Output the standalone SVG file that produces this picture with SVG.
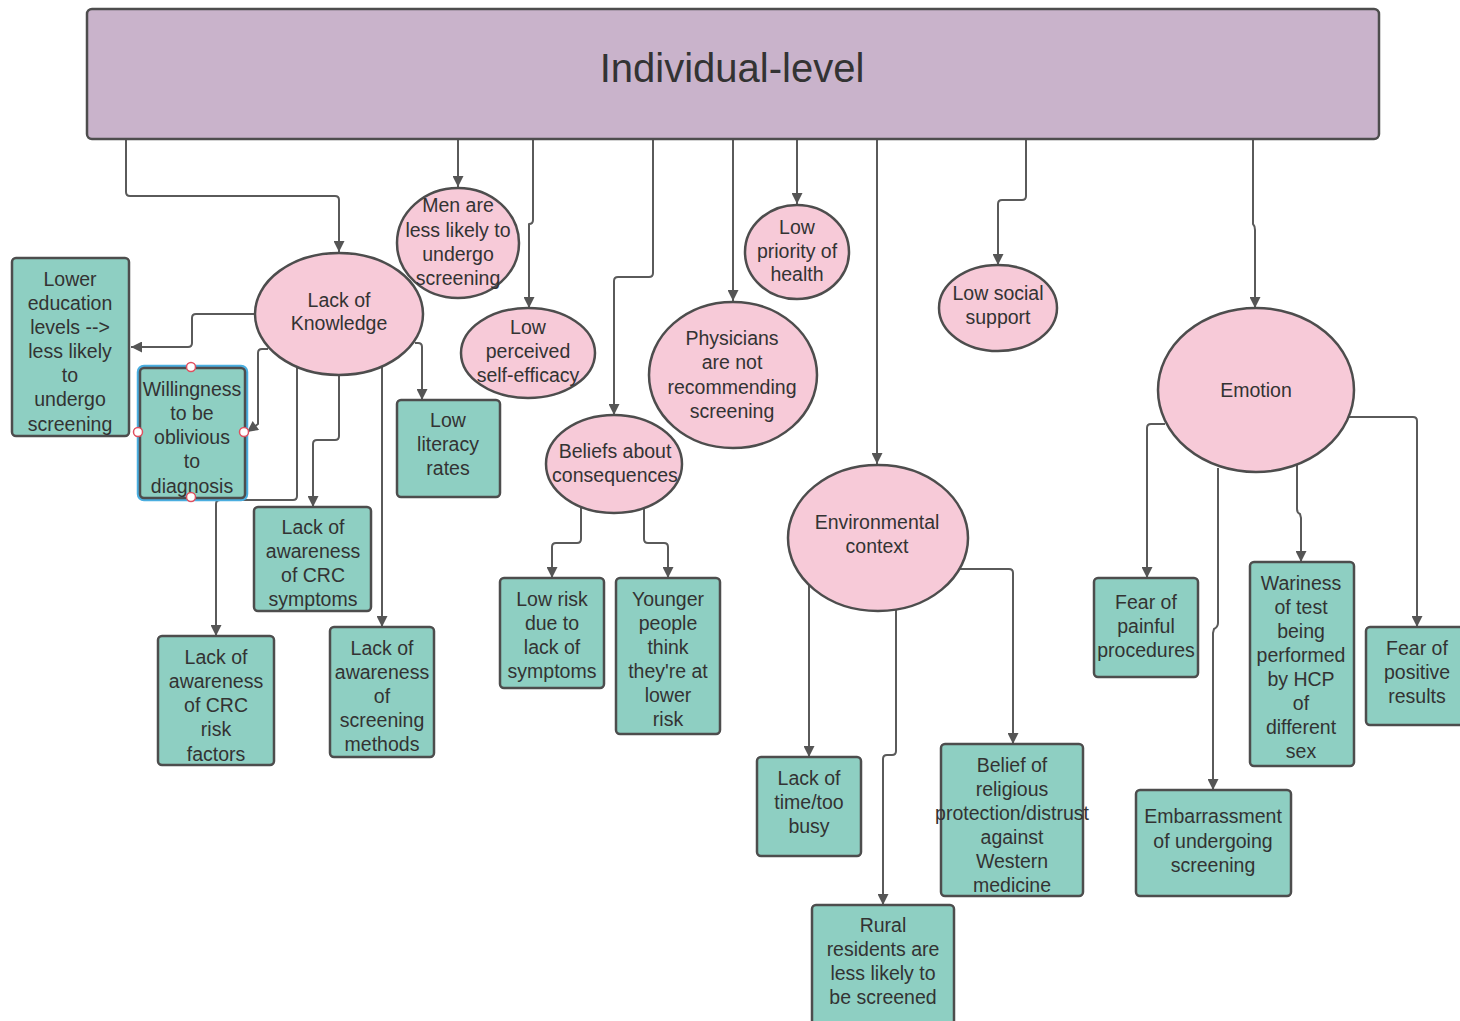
<svg xmlns="http://www.w3.org/2000/svg" width="1460" height="1021" viewBox="0 0 1460 1021">
<style>
.box{fill:#8ecfc2;stroke:#4d4d4d;stroke-width:2.5}
.ell{fill:#f7cad8;stroke:#4d4d4d;stroke-width:2.5}
.t{font-family:"Liberation Sans",Arial,sans-serif;font-size:19.5px;fill:#333;text-anchor:middle}
.c{fill:none;stroke:#5a5a5a;stroke-width:2;stroke-linejoin:round}
</style>
<defs>
<marker id="ah" viewBox="0 0 10 10" refX="10" refY="5" markerUnits="userSpaceOnUse" markerWidth="13" markerHeight="11" orient="auto">
<path d="M0,0 L10,5 L0,10 z" fill="#555"/>
</marker>
</defs>
<rect width="1460" height="1021" fill="#fff"/>

<g id="connectors">
<path class="c" marker-end="url(#ah)" d="M126 139 V192 Q126 196 130 196 H335 Q339 196 339 200 V252"/>
<path class="c" marker-end="url(#ah)" d="M458 139 V187"/>
<path class="c" marker-end="url(#ah)" d="M533 139 V220 Q533 224 529 224 V308"/>
<path class="c" marker-end="url(#ah)" d="M653 139 V273 Q653 277 649 277 H618 Q614 277 614 281 V415"/>
<path class="c" marker-end="url(#ah)" d="M733 139 V301"/>
<path class="c" marker-end="url(#ah)" d="M797 139 V204"/>
<path class="c" marker-end="url(#ah)" d="M877 139 V464"/>
<path class="c" marker-end="url(#ah)" d="M1026 139 V196 Q1026 200 1022 200 H1002 Q998 200 998 204 V265"/>
<path class="c" marker-end="url(#ah)" d="M1253 139 V224 Q1255 226 1255 230 V308"/>

<path class="c" marker-end="url(#ah)" d="M255 314 H196 Q192 314 192 318 V343 Q192 347 188 347 H131"/>
<path class="c" marker-end="url(#ah)" d="M268 349 H262 Q258 349 258 353 V424 L247 432"/>
<path class="c" marker-end="url(#ah)" d="M339 375 V436 Q339 440 335 440 H317 Q313 440 313 444 V507"/>
<path class="c" marker-end="url(#ah)" d="M297 368 V496 Q297 500 293 500 H220 Q216 500 216 504 V636"/>
<path class="c" marker-end="url(#ah)" d="M382 366 V627"/>
<path class="c" marker-end="url(#ah)" d="M415 343 H418 Q422 343 422 347 V400"/>

<path class="c" marker-end="url(#ah)" d="M581 508 V539 Q581 543 577 543 H556 Q552 543 552 547 V578"/>
<path class="c" marker-end="url(#ah)" d="M644 508 V539 Q644 543 648 543 H664 Q668 543 668 547 V578"/>

<path class="c" marker-end="url(#ah)" d="M809 585 V757"/>
<path class="c" marker-end="url(#ah)" d="M896 610 V751 Q896 755 892 755 H887 Q883 755 883 759 V905"/>
<path class="c" marker-end="url(#ah)" d="M960 569 H1009 Q1013 569 1013 573 V744"/>

<path class="c" marker-end="url(#ah)" d="M1165 424 H1151 Q1147 424 1147 428 V578"/>
<path class="c" marker-end="url(#ah)" d="M1218 468 V623 Q1218 627 1214 629 L1213 633 V790"/>
<path class="c" marker-end="url(#ah)" d="M1297 465 V509 Q1297 513 1300 514 L1301 518 V562"/>
<path class="c" marker-end="url(#ah)" d="M1348 417 H1413 Q1417 417 1417 421 V627"/>
</g>

<g id="header">
<rect x="87" y="9" width="1292" height="130" rx="5" fill="#c9b3cb" stroke="#4d4d4d" stroke-width="2.5"/>
<text class="t" x="732" y="82" style="font-size:40px">Individual-level</text>
</g>

<g id="lack-of-knowledge">
<ellipse class="ell" cx="339" cy="314" rx="84" ry="61"/>
<text class="t" x="339" y="307">Lack of</text>
<text class="t" x="339" y="330">Knowledge</text>
</g>

<g id="men-less-likely">
<ellipse class="ell" cx="458" cy="243" rx="61" ry="55"/>
<text class="t" x="458" y="212">Men are</text>
<text class="t" x="458" y="237">less likely to</text>
<text class="t" x="458" y="261">undergo</text>
<text class="t" x="458" y="285">screening</text>
</g>

<g id="low-self-efficacy">
<ellipse class="ell" cx="528" cy="353" rx="67" ry="45"/>
<text class="t" x="528" y="334">Low</text>
<text class="t" x="528" y="358">perceived</text>
<text class="t" x="528" y="382">self-efficacy</text>
</g>

<g id="low-priority-health">
<ellipse class="ell" cx="797" cy="252" rx="52" ry="47"/>
<text class="t" x="797" y="234">Low</text>
<text class="t" x="797" y="258">priority of</text>
<text class="t" x="797" y="281">health</text>
</g>

<g id="physicians">
<ellipse class="ell" cx="733" cy="375" rx="84" ry="73"/>
<text class="t" x="732" y="345">Physicians</text>
<text class="t" x="732" y="369">are not</text>
<text class="t" x="732" y="394">recommending</text>
<text class="t" x="732" y="418">screening</text>
</g>

<g id="beliefs-consequences">
<ellipse class="ell" cx="614" cy="464" rx="68" ry="49"/>
<text class="t" x="615" y="458">Beliefs about</text>
<text class="t" x="615" y="482">consequences</text>
</g>

<g id="low-social-support">
<ellipse class="ell" cx="998" cy="308" rx="59" ry="43"/>
<text class="t" x="998" y="300">Low social</text>
<text class="t" x="998" y="324">support</text>
</g>

<g id="environmental-context">
<ellipse class="ell" cx="878" cy="538" rx="90" ry="73"/>
<text class="t" x="877" y="529">Environmental</text>
<text class="t" x="877" y="553">context</text>
</g>

<g id="emotion">
<ellipse class="ell" cx="1256" cy="390" rx="98" ry="82"/>
<text class="t" x="1256" y="397">Emotion</text>
</g>

<g id="lower-education">
<rect class="box" x="12" y="258" width="117" height="178" rx="4"/>
<text class="t" x="70" y="286">Lower</text>
<text class="t" x="70" y="310">education</text>
<text class="t" x="70" y="334">levels --&gt;</text>
<text class="t" x="70" y="358">less likely</text>
<text class="t" x="70" y="382">to</text>
<text class="t" x="70" y="406">undergo</text>
<text class="t" x="70" y="431">screening</text>
</g>

<g id="willingness">
<rect x="138" y="366" width="109" height="134" rx="6" fill="none" stroke="#4aaee0" stroke-width="2.5"/>
<rect class="box" x="140" y="368" width="105" height="130" rx="4"/>
<text class="t" x="192" y="396">Willingness</text>
<text class="t" x="192" y="420">to be</text>
<text class="t" x="192" y="444">oblivious</text>
<text class="t" x="192" y="468">to</text>
<text class="t" x="192" y="493">diagnosis</text>
<g fill="#fff" stroke="#e05060" stroke-width="1.5">
<circle cx="191" cy="367" r="4.5"/>
<circle cx="138" cy="432" r="4.5"/>
<circle cx="244" cy="432" r="4.5"/>
<circle cx="191" cy="497" r="4.5"/>
</g>
</g>

<g id="low-literacy">
<rect class="box" x="397" y="400" width="103" height="97" rx="4"/>
<text class="t" x="448" y="427">Low</text>
<text class="t" x="448" y="451">literacy</text>
<text class="t" x="448" y="475">rates</text>
</g>

<g id="crc-symptoms">
<rect class="box" x="254" y="507" width="117" height="104" rx="4"/>
<text class="t" x="313" y="534">Lack of</text>
<text class="t" x="313" y="558">awareness</text>
<text class="t" x="313" y="582">of CRC</text>
<text class="t" x="313" y="606">symptoms</text>
</g>

<g id="crc-risk-factors">
<rect class="box" x="158" y="636" width="116" height="129" rx="4"/>
<text class="t" x="216" y="664">Lack of</text>
<text class="t" x="216" y="688">awareness</text>
<text class="t" x="216" y="712">of CRC</text>
<text class="t" x="216" y="736">risk</text>
<text class="t" x="216" y="761">factors</text>
</g>

<g id="screening-methods">
<rect class="box" x="330" y="627" width="104" height="130" rx="4"/>
<text class="t" x="382" y="655">Lack of</text>
<text class="t" x="382" y="679">awareness</text>
<text class="t" x="382" y="703">of</text>
<text class="t" x="382" y="727">screening</text>
<text class="t" x="382" y="751">methods</text>
</g>

<g id="low-risk">
<rect class="box" x="500" y="578" width="104" height="110" rx="4"/>
<text class="t" x="552" y="606">Low risk</text>
<text class="t" x="552" y="630">due to</text>
<text class="t" x="552" y="654">lack of</text>
<text class="t" x="552" y="678">symptoms</text>
</g>

<g id="younger-people">
<rect class="box" x="616" y="578" width="104" height="156" rx="4"/>
<text class="t" x="668" y="606">Younger</text>
<text class="t" x="668" y="630">people</text>
<text class="t" x="668" y="654">think</text>
<text class="t" x="668" y="678">they're at</text>
<text class="t" x="668" y="702">lower</text>
<text class="t" x="668" y="726">risk</text>
</g>

<g id="lack-of-time">
<rect class="box" x="757" y="757" width="104" height="99" rx="4"/>
<text class="t" x="809" y="785">Lack of</text>
<text class="t" x="809" y="809">time/too</text>
<text class="t" x="809" y="833">busy</text>
</g>

<g id="religious-protection">
<rect class="box" x="941" y="744" width="142" height="152" rx="4"/>
<text class="t" x="1012" y="772">Belief of</text>
<text class="t" x="1012" y="796">religious</text>
<text class="t" x="1012" y="820">protection/distrust</text>
<text class="t" x="1012" y="844">against</text>
<text class="t" x="1012" y="868">Western</text>
<text class="t" x="1012" y="892">medicine</text>
</g>

<g id="rural-residents">
<rect class="box" x="812" y="905" width="142" height="125" rx="4"/>
<text class="t" x="883" y="932">Rural</text>
<text class="t" x="883" y="956">residents are</text>
<text class="t" x="883" y="980">less likely to</text>
<text class="t" x="883" y="1004">be screened</text>
</g>

<g id="fear-painful">
<rect class="box" x="1094" y="578" width="104" height="99" rx="4"/>
<text class="t" x="1146" y="609">Fear of</text>
<text class="t" x="1146" y="633">painful</text>
<text class="t" x="1146" y="657">procedures</text>
</g>

<g id="wariness">
<rect class="box" x="1250" y="562" width="104" height="204" rx="4"/>
<text class="t" x="1301" y="590">Wariness</text>
<text class="t" x="1301" y="614">of test</text>
<text class="t" x="1301" y="638">being</text>
<text class="t" x="1301" y="662">performed</text>
<text class="t" x="1301" y="686">by HCP</text>
<text class="t" x="1301" y="710">of</text>
<text class="t" x="1301" y="734">different</text>
<text class="t" x="1301" y="758">sex</text>
</g>

<g id="fear-positive">
<rect class="box" x="1366" y="627" width="104" height="98" rx="4"/>
<text class="t" x="1417" y="655">Fear of</text>
<text class="t" x="1417" y="679">positive</text>
<text class="t" x="1417" y="703">results</text>
</g>

<g id="embarrassment">
<rect class="box" x="1136" y="790" width="155" height="106" rx="4"/>
<text class="t" x="1213" y="823">Embarrassment</text>
<text class="t" x="1213" y="848">of undergoing</text>
<text class="t" x="1213" y="872">screening</text>
</g>
</svg>
